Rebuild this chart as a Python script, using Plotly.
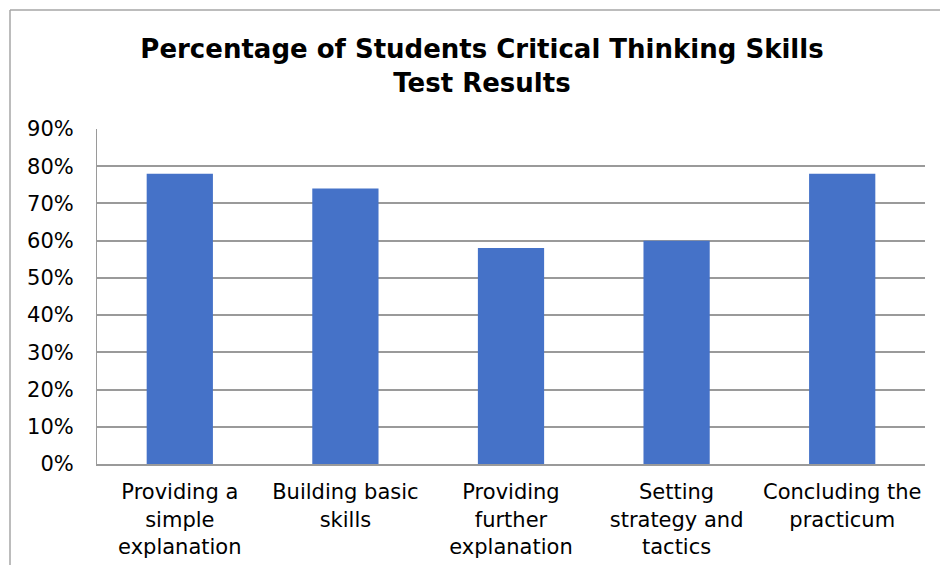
import plotly.graph_objects as go

categories = ["Providing a<br>simple<br>explanation", "Building basic<br>skills",
              "Providing<br>further<br>explanation", "Setting<br>strategy and<br>tactics",
              "Concluding the<br>practicum"]
values = [0.78, 0.74, 0.58, 0.60, 0.78]
tick_vals = [0, 0.1, 0.2, 0.3, 0.4, 0.5, 0.6, 0.7, 0.8, 0.9]
tick_text = ["0%", "10%", "20%", "30%", "40%", "50%", "60%", "70%", "80%", "90%"]

fig = go.Figure()
fig.add_trace(go.Bar(
    x=categories, y=values, width=0.4,
    marker=dict(color="#4572C8", line=dict(width=0)),
    hoverinfo="skip",
))

font = "DejaVu Sans, Verdana, sans-serif"
fig.update_layout(
    width=940, height=565,
    margin=dict(l=97, r=15, t=129, b=101, autoexpand=False),
    paper_bgcolor="white", plot_bgcolor="white",
    showlegend=False,
    title=dict(
        text="<b>Percentage of Students Critical Thinking Skills<br>Test Results</b>",
        x=482 / 940, xanchor="center", xref="container",
        y=1 - 58 / 565, yanchor="top", yref="container",
        font=dict(family=font, size=26, color="black"),
    ),
    font=dict(family=font, size=21, color="black"),
    xaxis=dict(
        showline=True, linecolor="#9a9a9a", linewidth=2,
        showgrid=False, ticks="", tickfont=dict(size=21),
        ticklabelstandoff=8, automargin=False,
    ),
    yaxis=dict(
        range=[0, 0.9], tickvals=tick_vals, ticktext=tick_text,
        showgrid=True, gridcolor="#9a9a9a", gridwidth=2,
        showline=True, linecolor="#9a9a9a", linewidth=1,
        ticks="", zeroline=False, tickfont=dict(size=21),
        ticklabelstandoff=18, automargin=False,
    ),
    shapes=[
        dict(type="line", xref="paper", yref="paper",
             x0=(10 - 97) / 828, x1=(940 - 97) / 828 + 0.05,
             y0=1 + (129 - 10) / 335, y1=1 + (129 - 10) / 335,
             line=dict(color="#a6a6a6", width=1.5)),
        dict(type="line", xref="paper", yref="paper",
             x0=(10 - 97) / 828, x1=(10 - 97) / 828,
             y0=1 + (129 - 10) / 335, y1=-0.5,
             line=dict(color="#a6a6a6", width=1.5)),
    ],
)

fig.write_html("out.html")
